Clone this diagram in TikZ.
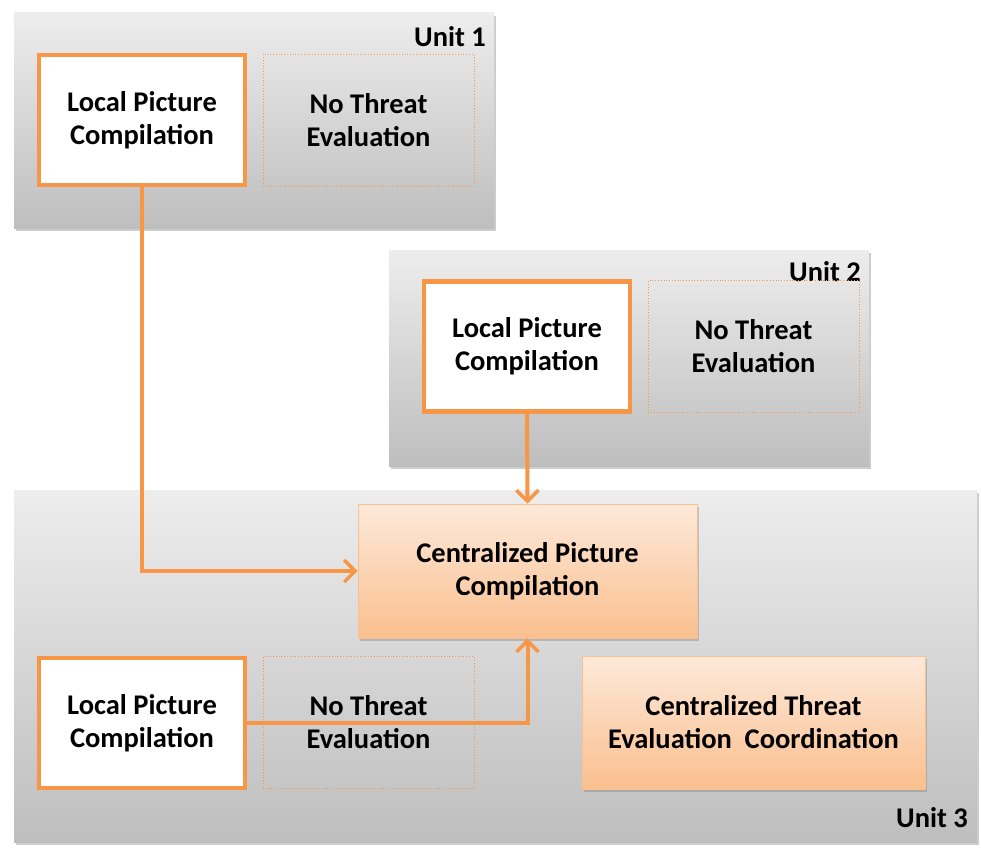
\documentclass[tikz,border=0pt]{standalone}
\usepackage{fontspec}
\setmainfont{Carlito}
\usetikzlibrary{arrows.meta,shadows}
\definecolor{accent}{HTML}{F79646}
\definecolor{graytop}{HTML}{EDEDED}
\definecolor{graybot}{HTML}{BEBEBE}
\definecolor{peachtop}{HTML}{FDE9DA}
\definecolor{peachbot}{HTML}{FABF8E}
\begin{document}
\begin{tikzpicture}[x=1pt, y=-1pt,
    every node/.style={font=\fontsize{28.5}{33}\selectfont\bfseries, align=center, inner sep=0pt},
    unitbox/.style={top color=graytop, bottom color=graybot, draw=none,
      drop shadow={shadow xshift=2pt, shadow yshift=-3pt, opacity=0.4}},
    localbox/.style={draw=accent, line width=4.5pt, fill=white,
      minimum width=206pt, minimum height=130pt},
    nothreat/.style={draw=accent, dotted, line width=0.8pt,
      minimum width=211pt, minimum height=132pt},
    centralbox/.style={top color=peachtop, bottom color=peachbot, draw=accent!60, line width=0.6pt,
      drop shadow={shadow xshift=2pt, shadow yshift=-3pt, opacity=0.4}},
    link/.style={draw=accent, line width=4pt, -{Straight Barb[length=11pt,width=22pt,line width=3.5pt]}}]
    \useasboundingbox (0,0) rectangle (981,851);

    \node[unitbox, minimum width=480pt, minimum height=215pt] (u1) at (254, 120.5) {};
    \node[unitbox, minimum width=480pt, minimum height=216pt] (u2) at (629, 358) {};
    \node[unitbox, minimum width=963pt, minimum height=352pt] (u3) at (495.5, 666) {};

    \node[anchor=east] (u1lbl) at (486, 37) {Unit 1};
    \node[anchor=east] (u2lbl) at (861, 272) {Unit 2};
    \node[anchor=east] (u3lbl) at (968, 818) {Unit 3};

    \node[localbox] (loc1) at (142, 120) {Local Picture\\Compilation};
    \node[nothreat] (nte1) at (368.5, 120) {No Threat\\Evaluation};
    \node[localbox] (loc2) at (527, 346.5) {Local Picture\\Compilation};
    \node[nothreat] (nte2) at (753.5, 346.5) {No Threat\\Evaluation};
    \node[localbox] (loc3) at (142, 723) {Local Picture\\Compilation};
    \node[nothreat] (nte3) at (368.5, 722.5) {No Threat\\Evaluation};

    \node[centralbox, minimum width=339pt, minimum height=134pt] (cpc) at (527.5, 571) {Centralized Picture\\Compilation};
    \node[centralbox, minimum width=343pt, minimum height=133pt] (cte) at (753.5, 722.5) {Centralized Threat\\Evaluation~~Coordination};

    \draw[link] (loc1.south) |- (cpc.west);
    \draw[link] (loc2.south) -- (cpc.north);
    \draw[link] (loc3.east) -| (cpc.south);

  \end{tikzpicture}
\end{document}
